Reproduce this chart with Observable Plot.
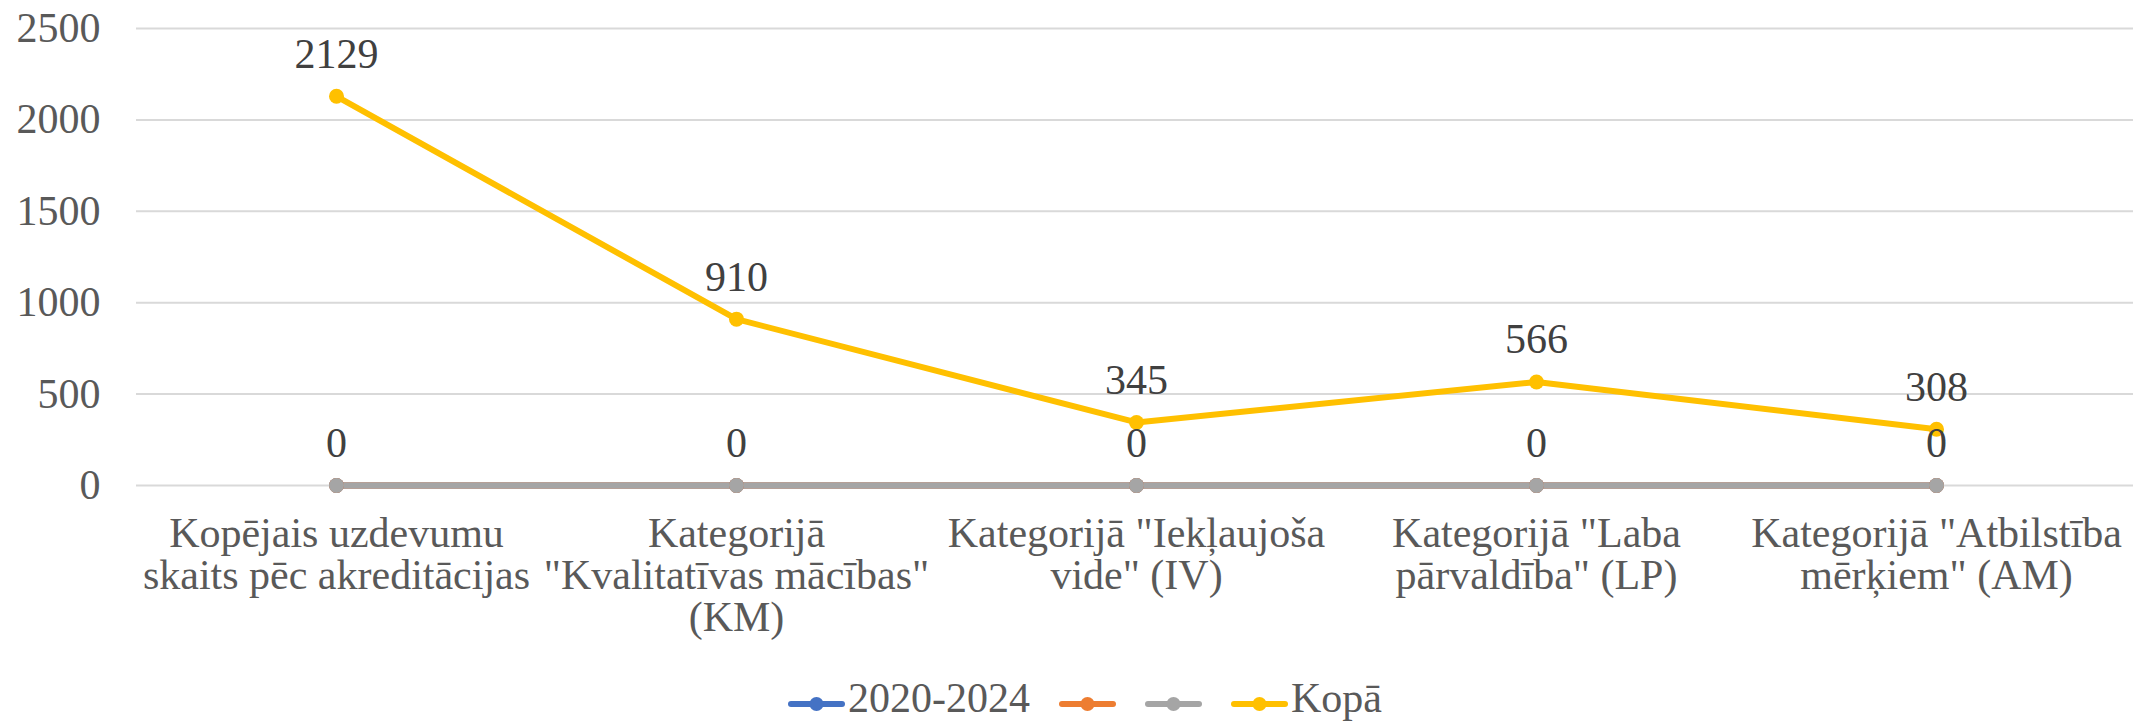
<!DOCTYPE html>
<html>
<head>
<meta charset="utf-8">
<script src="https://cdn.jsdelivr.net/npm/d3@7"></script>
<script src="https://cdn.jsdelivr.net/npm/@observablehq/plot@0.6"></script>
<style>
  html, body { margin: 0; padding: 0; background: #fff; }
  body { width: 2133px; height: 727px; overflow: hidden; font-family: "Liberation Serif", "Times New Roman", serif; }
  #legend { position: relative; width: 2133px; height: 47px; display: flex; align-items: flex-start; padding-left: 788px; box-sizing: border-box; }
  .item { display: flex; align-items: flex-start; margin-right: 29px; }
  .item svg { display: block; }
  .lab { font-size: 42px; color: #595959; line-height: 47px; height: 47px; margin-top: -5px; margin-left: 3px; white-space: nowrap; }
</style>
</head>
<body>
<div id="chart"></div>
<div id="legend"></div>
<script>
const categories = [
  "Kopējais uzdevumu\nskaits pēc akreditācijas",
  "Kategorijā\n\"Kvalitatīvas mācības\"\n(KM)",
  "Kategorijā \"Iekļaujoša\nvide\" (IV)",
  "Kategorijā \"Laba\npārvaldība\" (LP)",
  "Kategorijā \"Atbilstība\nmērķiem\" (AM)"
];
const seriesIds = ["2020-2024", "s2", "s3", "Kopā"];
const seriesNames = ["2020-2024", "", "", "Kopā"];
const seriesColors = ["#4472C4", "#ED7D31", "#A5A5A5", "#FFC000"];
const values2020 = [0, 0, 0, 0, 0];
const valuesS2 = [0, 0, 0, 0, 0];
const valuesS3 = [0, 0, 0, 0, 0];
const valuesKopa = [2129, 910, 345, 566, 308];
const yTicks = [0, 500, 1000, 1500, 2000, 2500];
const labelledSeries = ["s3", "Kopā"];

const seriesValues = [values2020, valuesS2, valuesS3, valuesKopa];
const rows = [];
seriesIds.forEach((id, si) => {
  categories.forEach((c, ci) => rows.push({cat: c, value: seriesValues[si][ci], series: id}));
});
const labelRows = rows.filter(d => labelledSeries.includes(d.series));

const chart = Plot.plot({
  width: 2133,
  height: 680,
  marginTop: 28,
  marginBottom: 195,
  marginLeft: 136,
  marginRight: 0,
  style: {fontFamily: "'Liberation Serif', 'Times New Roman', serif", fontSize: "42px", color: "#595959", background: "#fff"},
  x: {type: "point", domain: categories, range: [136, 2136], padding: 0.5},
  y: {domain: [0, 2500]},
  color: {domain: seriesIds, range: seriesColors},
  marks: [
    Plot.gridY(yTicks, {stroke: "#D9D9D9", strokeOpacity: 1, strokeWidth: 2}),
    Plot.axisY({ticks: yTicks, tickSize: 0, tickPadding: 36, fontSize: 42, label: null, fill: "#595959", tickFormat: d => String(d)}),
    Plot.axisX({tickSize: 0, tickPadding: 32, fontSize: 42, lineHeight: 1.0, label: null, tickFormat: d => d, fill: "#595959"}),
    Plot.line(rows, {x: "cat", y: "value", z: "series", stroke: "series", strokeWidth: 6, strokeLinecap: "round", strokeLinejoin: "round"}),
    Plot.dot(rows, {x: "cat", y: "value", fill: "series", r: 7.5}),
    Plot.text(labelRows, {x: "cat", y: "value", text: d => String(d.value), dy: -42, fontSize: 42, fill: "#404040"})
  ]
});
document.getElementById("chart").appendChild(chart);

const legend = document.getElementById("legend");
seriesIds.forEach((id, i) => {
  const item = document.createElement("div");
  item.className = "item";
  const ns = "http://www.w3.org/2000/svg";
  const svg = document.createElementNS(ns, "svg");
  svg.setAttribute("width", 57);
  svg.setAttribute("height", 47);
  const line = document.createElementNS(ns, "line");
  line.setAttribute("x1", 3); line.setAttribute("x2", 54);
  line.setAttribute("y1", 24); line.setAttribute("y2", 24);
  line.setAttribute("stroke", seriesColors[i]);
  line.setAttribute("stroke-width", 6);
  line.setAttribute("stroke-linecap", "round");
  const c = document.createElementNS(ns, "circle");
  c.setAttribute("cx", 28.5); c.setAttribute("cy", 24); c.setAttribute("r", 7);
  c.setAttribute("fill", seriesColors[i]);
  svg.appendChild(line); svg.appendChild(c);
  item.appendChild(svg);
  if (seriesNames[i]) {
    const t = document.createElement("span");
    t.className = "lab";
    t.textContent = seriesNames[i];
    item.appendChild(t);
  }
  legend.appendChild(item);
});
</script>
</body>
</html>
